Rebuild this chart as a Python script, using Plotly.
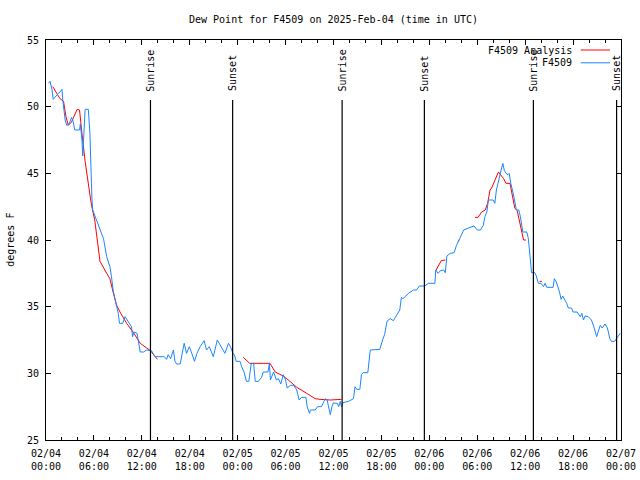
import plotly.graph_objects as go
from datetime import datetime, timedelta

BASE = datetime(2025, 2, 4)

# Observed dew point (F4509): hours since 2025-02-04 00:00 UTC, values in F
obs_hours = [0.3, 0.5, 0.75, 0.9, 1.55, 1.75, 2.0, 2.1, 2.4, 2.6, 2.9, 3.2, 3.4, 3.6, 4.2, 4.3, 4.5, 4.6,
             4.9, 5.3, 5.5, 5.6, 5.75, 5.85, 6.35, 6.76, 7.2, 7.6, 8.0, 8.2, 8.4, 8.75, 9.05, 9.2, 9.6,
             9.9, 10.2, 10.7, 10.85, 11.0, 11.4, 11.7, 11.8, 12.2, 12.6, 13.2, 13.65, 14.06, 14.8, 15.1,
             15.3, 15.6, 15.95, 16.15, 16.35, 16.8, 17.1, 17.3, 17.6, 17.95, 18.25, 18.6, 18.9, 19.3,
             19.8, 20.1, 20.45, 20.95, 21.45, 21.8, 22.4, 22.85, 23.1, 23.4, 23.6, 23.8, 24.3, 24.5,
             24.8, 25.1, 25.4, 25.7, 26.0, 26.2, 26.6, 27.0, 27.2, 27.8, 27.97, 28.1, 28.5, 28.85, 29.1,
             29.4, 29.7, 30.0, 30.2, 30.6, 31.0, 31.4, 31.7, 32.0, 32.55, 32.7, 33.0, 33.1, 33.7, 34.0,
             34.5, 34.8, 35.0, 35.2, 35.35, 35.6, 35.8, 36.0, 36.2, 36.5, 36.65, 36.85, 37.0, 37.2,
             37.9, 38.5, 38.7, 38.9, 39.3, 39.5, 39.7, 40.3, 40.6, 41.8, 42.2, 42.4, 42.7, 43.1, 43.5,
             43.9, 44.3, 44.5, 44.7, 45.4, 46.0, 46.4, 46.75, 47.4, 47.9, 48.7, 48.8, 49.1, 49.4, 49.8,
             50.0, 50.2, 50.6, 51.1, 51.4, 51.8, 52.3, 52.9, 53.3, 53.6, 54.0, 54.4, 54.75, 54.96, 55.2,
             55.4, 56.0, 56.2, 56.4, 56.85, 57.05, 57.2, 57.4, 57.6, 57.85, 58.0, 58.2, 58.5, 58.7,
             58.9, 59.2, 59.4, 59.7, 60.2, 60.4, 60.6, 60.8, 61.2, 61.4, 61.65, 62.0, 62.3, 62.5, 62.7,
             63.5, 63.65, 63.9, 64.3, 64.5, 64.7, 64.95, 65.2, 65.4, 65.8, 66.0, 66.5, 66.9, 67.1, 67.3,
             67.5, 67.9, 68.3, 68.6, 68.95, 69.4, 69.65, 70.0, 70.3, 70.6, 70.8, 71.2, 71.6, 71.9]
obs_values = [51.75, 51.9, 51.3, 50.55, 51.0, 51.1, 51.3, 50.5, 49.0, 48.6, 48.7, 49.2, 48.9, 48.25, 48.25,
              48.7, 47.5, 46.3, 49.8, 49.8, 48.0, 45.0, 43.1, 42.25, 41.4, 40.75, 40.1, 38.75, 38.0, 37.25,
              36.25, 35.25, 34.5, 33.75, 33.75, 34.25, 34.0, 33.5, 32.75, 33.1, 33.0, 32.1, 31.6, 31.6,
              31.75, 31.7, 31.25, 31.25, 31.25, 31.05, 31.4, 31.1, 31.75, 30.9, 30.7, 30.7, 31.75, 32.25,
              31.5, 32.0, 31.5, 30.9, 31.5, 32.0, 32.45, 31.75, 32.0, 31.25, 32.5, 32.1, 31.5, 32.25,
              32.0, 31.5, 31.4, 30.9, 30.9, 30.5, 30.1, 29.4, 29.4, 30.75, 30.75, 29.4, 29.4, 29.7, 30.1,
              30.1, 30.75, 29.5, 30.1, 29.5, 29.6, 29.2, 29.9, 29.5, 28.9, 29.1, 29.1, 28.75, 28.0, 28.2,
              28.2, 27.5, 27.0, 27.25, 27.25, 27.5, 27.5, 27.9, 28.1, 28.0, 27.5, 26.9, 27.5, 27.8, 27.75,
              27.75, 27.5, 27.9, 27.5, 27.8, 27.9, 28.1, 29.0, 28.8, 28.8, 29.9, 30.05, 30.05, 31.75,
              31.8, 32.6, 32.9, 33.9, 34.1, 33.95, 34.4, 34.75, 35.7, 35.6, 36.0, 36.25, 36.25, 36.55,
              36.55, 36.75, 36.75, 37.75, 37.5, 37.7, 37.75, 37.55, 38.8, 39.0, 39.05, 39.6, 40.1, 40.75,
              40.9, 41.0, 41.05, 40.75, 40.75, 41.1, 41.75, 42.1, 43.0, 43.0, 42.75, 43.75, 44.75, 45.4,
              45.75, 45.2, 45.0, 44.9, 45.0, 44.25, 43.5, 42.75, 42.25, 42.25, 41.75, 40.6, 40.6, 40.1,
              38.5, 37.55, 37.55, 37.3, 36.75, 36.75, 36.5, 36.75, 36.45, 36.45, 37.1, 36.85, 36.1,
              35.55, 35.8, 35.55, 35.25, 34.9, 34.9, 34.6, 34.6, 34.25, 34.5, 34.0, 34.3, 34.25, 34.0,
              33.5, 32.75, 33.6, 33.4, 33.7, 33.4, 32.6, 32.4, 32.4, 32.75, 33.0]

# Analysis (F4509 Analysis): None marks gaps between segments
ana_hours = [0.85, 1.75, 2.2, 2.5, 2.8, 3.2, 3.9, 4.2, 4.5, 4.9, 5.5, 5.7, 6.1, 6.55, 6.76, 7.6, 8.0, 8.4,
             8.85, 9.27, 10.1, 10.9, 11.8, 12.6, 13.0, 13.95, None,
             24.7, 25.5, 26.4, 28.05, 28.7, 29.7, 30.55, 31.4, 32.65, 33.7, 34.3, 35.6, 37.0, None,
             48.8, 49.5, 50.0, None,
             51.6, 51.8, None,
             53.7, 54.1, 54.55, 55.0, 55.3, 55.6, 55.8, 56.2, 56.65, 57.3, 57.6, 58.1, 58.4, 58.7, 59.0,
             59.35, 59.6, 59.8, 60.1, None,
             61.8, 62.1]
ana_values = [51.5, 50.6, 50.4, 49.25, 48.6, 48.85, 49.8, 49.75, 48.0, 45.9, 43.4, 42.6, 41.5, 39.6, 38.4,
              37.5, 37.1, 36.1, 35.1, 34.6, 33.75, 33.1, 32.25, 31.9, 31.75, 31.05, None,
              31.2, 30.75, 30.75, 30.75, 30.1, 29.8, 29.4, 28.95, 28.5, 28.1, 28.05, 28.0, 28.05, None,
              37.7, 38.45, 38.5, None,
              39.9, 40.05, None,
              41.7, 41.7, 42.1, 42.25, 42.75, 43.75, 43.9, 44.5, 45.1, 44.6, 44.25, 44.25, 43.25, 42.4,
              42.2, 41.25, 40.6, 40.0, 40.0, None,
              36.9, 36.9]

# Sunrise / sunset times (hours since 2025-02-04 00:00 UTC)
sun_hours = [13.08, 23.37, 37.08, 47.38, 61.03, 71.45]
sun_labels = ["Sunrise", "Sunset", "Sunrise", "Sunset", "Sunrise", "Sunset"]

y_ticks = [25, 30, 35, 40, 45, 50, 55]


def to_time(h):
    return None if h is None else BASE + timedelta(hours=h)


RED = "#ff0000"
BLUE = "#1a86ff"
FONT = "DejaVu Sans Mono"

fig = go.Figure()
fig.add_trace(go.Scatter(x=[to_time(h) for h in ana_hours], y=ana_values, mode="lines",
                         line=dict(color=RED, width=1), name="F4509 Analysis",
                         connectgaps=False))
fig.add_trace(go.Scatter(x=[to_time(h) for h in obs_hours], y=obs_values, mode="lines",
                         line=dict(color=BLUE, width=1), name="F4509"))

for h, lab in zip(sun_hours, sun_labels):
    t = to_time(h)
    fig.add_shape(type="line", xref="x", yref="y", x0=t, x1=t, y0=25, y1=50.5,
                  line=dict(color="black", width=1.2))
    fig.add_annotation(x=t, y=51.0, xref="x", yref="y", text=lab, textangle=-90,
                       showarrow=False, xanchor="center", yanchor="bottom",
                       font=dict(family=FONT, size=10, color="black"))

# gnuplot-style legend (text right, sample line after)
legend_rows = [("F4509 Analysis", RED, 0.975), ("F4509", BLUE, 0.943)]
for txt, col, yp in legend_rows:
    fig.add_annotation(x=0.919, y=yp, xref="paper", yref="paper", text=txt, showarrow=False,
                       xanchor="right", yanchor="middle", font=dict(family=FONT, size=10, color="black"))
    fig.add_shape(type="line", xref="paper", yref="paper", x0=0.930, x1=0.981, y0=yp, y1=yp,
                  line=dict(color=col, width=1))

fig.add_annotation(x=-0.063, y=0.5, xref="paper", yref="paper", text="degrees F", textangle=-90,
                   showarrow=False, xanchor="center", yanchor="middle",
                   font=dict(family=FONT, size=10, color="black"))

fig.update_layout(
    width=640, height=480,
    margin=dict(l=46, r=19, t=40, b=40, autoexpand=False),
    paper_bgcolor="white", plot_bgcolor="white",
    showlegend=False,
    font=dict(family=FONT, size=10, color="black"),
    title=dict(text="Dew Point for F4509 on 2025-Feb-04 (time in UTC)", x=0.5, xref="paper",
               y=1 - 19 / 480, yref="container", xanchor="center", yanchor="middle",
               font=dict(family=FONT, size=10, color="black")),
    xaxis=dict(type="date", range=[BASE, BASE + timedelta(hours=72)],
               tick0=BASE, dtick=6 * 3600 * 1000, tickformat="%m/%d<br>%H:%M",
               ticks="inside", ticklen=5, tickcolor="black", tickwidth=1,
               minor=dict(dtick=2 * 3600 * 1000, ticks="inside", ticklen=3, tickcolor="black"),
               showline=True, linecolor="black", linewidth=1, mirror="ticks",
               showgrid=False, zeroline=False, ticklabelstandoff=4,
               tickfont=dict(family=FONT, size=10, color="black")),
    yaxis=dict(range=[25, 55], tickvals=y_ticks, ticks="inside", ticklen=5, tickcolor="black",
               showline=True, linecolor="black", linewidth=1, mirror="ticks",
               showgrid=False, zeroline=False, ticklabelstandoff=4,
               tickfont=dict(family=FONT, size=10, color="black")),
)

fig.write_html("out.html", config={"displayModeBar": False},
               post_script="document.body.style.margin='0';")
